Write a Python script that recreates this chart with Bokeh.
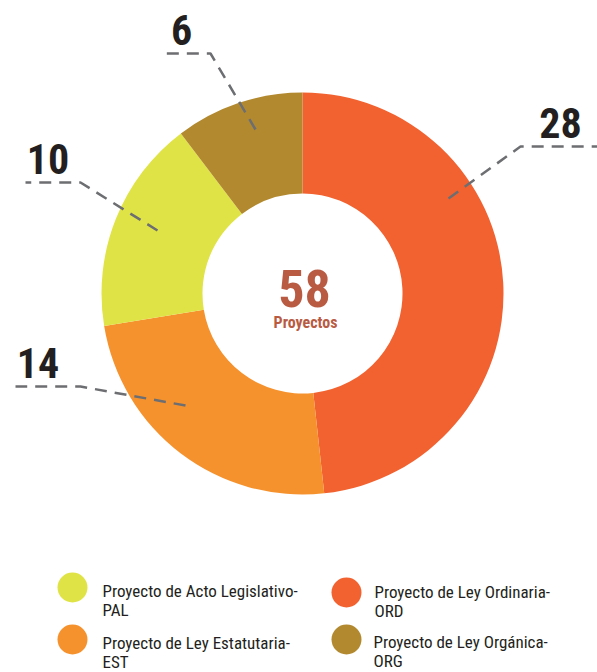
from bokeh.plotting import figure
from bokeh.models import Range1d, ColumnDataSource
from bokeh.embed import file_html
from bokeh.resources import INLINE
from bokeh.core.properties import value
import numpy as np

# ---- data ----
categories = ["ORD", "EST", "PAL", "ORG"]
counts = [28, 14, 10, 6]
colors = ["#F26230", "#F6922E", "#E0E346", "#B3892F"]
legend_line1 = ["Proyecto de Ley Ordinaria-", "Proyecto de Ley Estatutaria-",
                "Proyecto de Acto Legislativo-", "Proyecto de Ley Orgánica-"]
center_caption = "Proyectos"

W, H = 597, 672
FONT = "'Roboto Condensed', 'DejaVu Sans Condensed', Roboto, sans-serif"

def Y(y):  # pixel row -> data y (y axis points up)
    return H - y

p = figure(width=W, height=H, x_range=Range1d(0, W), y_range=Range1d(0, H),
           output_backend="svg", toolbar_location=None, min_border=0)
p.axis.visible = False
p.grid.visible = False
p.outline_line_color = None
p.background_fill_color = "white"
p.border_fill_color = "white"

# ---- donut ----
cx, cy = 302, Y(293)
vals = np.array(counts, dtype=float)
tot = vals.sum()
cum = np.concatenate([[0], np.cumsum(vals)])
start = np.pi / 2 - 2 * np.pi * cum[1:] / tot
end = np.pi / 2 - 2 * np.pi * cum[:-1] / tot
src = ColumnDataSource(dict(cat=categories, v=counts, start=start, end=end, color=colors))
p.annular_wedge(x=cx, y=cy, inner_radius=100, outer_radius=201,
                start_angle="start", end_angle="end", fill_color="color",
                line_color=None, source=src)

# ---- center text ----
p.text(x=[304], y=[Y(288)], text=[str(int(tot))], text_align="center",
       text_baseline="middle", text_font=value(FONT), text_font_style="bold",
       text_font_size="52px", text_color="#B95B43")
p.text(x=[305], y=[Y(322)], text=[center_caption], text_align="center",
       text_baseline="middle", text_font=value(FONT), text_font_style="bold",
       text_font_size="16px", text_color="#B95B43")

# ---- leader lines & labels (order: ORD, EST, PAL, ORG) ----
leaders_x = [[448, 520, 597], [185, 80, 15], [157, 80, 25], [255, 210, 159]]
leaders_y = [[198, 146, 146], [405, 386, 386], [230, 182, 182], [129, 53, 53]]
p.multi_line(xs=leaders_x, ys=[[Y(v) for v in ys] for ys in leaders_y],
             line_color="#6D6E71", line_width=2.5, line_dash="12 8")
lab_x = [560, 37.5, 47.5, 181]
lab_y = [122, 362, 158, 29]
for i in range(4):
    p.text(x=[lab_x[i]], y=[Y(lab_y[i])], text=[str(counts[i])],
           text_align="center", text_baseline="middle",
           text_font=value(FONT), text_font_style="bold",
           text_font_size="42px", text_color="#231F20")

# ---- legend ----
leg_cx = [346, 72, 72, 346]
leg_cy = [592, 639, 587, 639]
leg_tx = [374, 102, 102, 373]
leg_ty = [591, 642, 590, 641]
p.scatter(x=leg_cx, y=[Y(v) for v in leg_cy], size=30, marker="circle",
          fill_color=colors, line_color=None)
for i in range(4):
    p.text(x=[leg_tx[i]], y=[Y(leg_ty[i])], text=[legend_line1[i]],
           text_align="left", text_baseline="middle", text_font=value(FONT),
           text_font_size="17px", text_color="#231F20")
    p.text(x=[leg_tx[i]], y=[Y(leg_ty[i] + 19)], text=[categories[i]],
           text_align="left", text_baseline="middle", text_font=value(FONT),
           text_font_size="17px", text_color="#231F20")

open("out.html", "w").write(file_html(p, INLINE))
